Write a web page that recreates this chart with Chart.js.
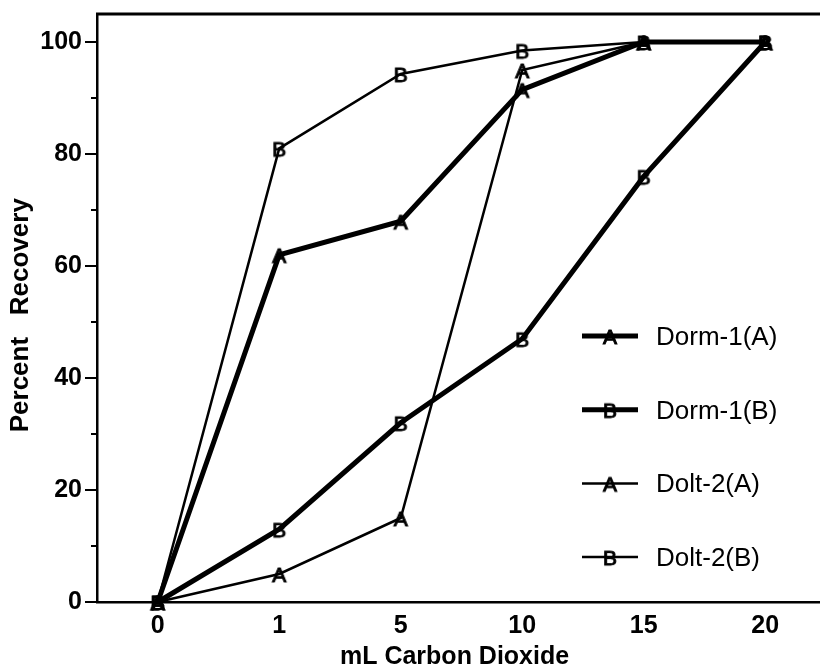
<!DOCTYPE html>
<html>
<head>
<meta charset="utf-8">
<script src="https://cdn.jsdelivr.net/npm/chart.js@4"></script>
<style>
  html, body { margin: 0; padding: 0; background: #fff; overflow: hidden; }
  #wrap { width: 840px; height: 667px; }
</style>
</head>
<body>
<div id="wrap"><canvas id="recovery-chart"></canvas></div>
<script>
// data
const co2Labels = ["0", "1", "5", "10", "15", "20"];
const dorm1A = [0, 62, 68, 91.5, 100, 100];
const dorm1B = [0, 13, 32, 47, 76, 100];
const dolt2A = [0, 5, 15, 95, 100, 100];
const dolt2B = [0, 81, 94.3, 98.5, 100, 100];
const yTicks = [0, 20, 40, 60, 80, 100];
const yMinorTicks = [10, 30, 50, 70, 90];

const FONT = '"Liberation Sans", Arial, sans-serif';

// letter used as point marker
const letterMarker = (ch) => {
  const c = document.createElement("canvas");
  c.width = 22;
  c.height = 22;
  const g = c.getContext("2d");
  g.font = "21px " + FONT;
  g.textAlign = "center";
  g.textBaseline = "alphabetic";
  g.fillStyle = "#000";
  g.strokeStyle = "#000";
  g.lineWidth = 1;
  g.fillText(ch, 11, 11 + 7.5);
  g.strokeText(ch, 11, 11 + 7.5);
  return c;
};
const markA = letterMarker("A");
const markB = letterMarker("B");

const series = [
  { label: "Dorm-1(A)", data: dorm1A, marker: markA, width: 5 },
  { label: "Dorm-1(B)", data: dorm1B, marker: markB, width: 5 },
  { label: "Dolt-2(A)", data: dolt2A, marker: markA, width: 2.5 },
  { label: "Dolt-2(B)", data: dolt2B, marker: markB, width: 2.5 },
];

// top frame line, minor y ticks and the legend inside the plot
const extras = {
  id: "extras",
  afterDraw(chart) {
    const { ctx, chartArea, scales } = chart;
    ctx.save();
    ctx.strokeStyle = "#000";
    ctx.lineWidth = 3;
    ctx.beginPath();
    ctx.moveTo(chartArea.left - 1, chartArea.top);
    ctx.lineTo(chart.width, chartArea.top);
    ctx.stroke();

    ctx.lineWidth = 2;
    yMinorTicks.forEach((v) => {
      const y = Math.round(scales.y.getPixelForValue(v));
      ctx.beginPath();
      ctx.moveTo(chartArea.left - 6, y);
      ctx.lineTo(chartArea.left, y);
      ctx.stroke();
    });

    series.forEach((s, i) => {
      const y = 336 + i * 73.7;
      ctx.lineWidth = s.width;
      ctx.beginPath();
      ctx.moveTo(582, y);
      ctx.lineTo(638, y);
      ctx.stroke();
      ctx.drawImage(s.marker, 610 - 11, y - 11);
      ctx.fillStyle = "#000";
      ctx.font = "26px " + FONT;
      ctx.textAlign = "left";
      ctx.textBaseline = "alphabetic";
      ctx.fillText(s.label, 656, y + 9);
    });
    ctx.restore();
  },
};

new Chart(document.getElementById("recovery-chart"), {
  type: "line",
  data: {
    labels: co2Labels,
    datasets: series.map((s) => ({
      label: s.label,
      data: s.data,
      borderColor: "#000",
      backgroundColor: "#000",
      borderWidth: s.width,
      pointStyle: s.marker,
      pointRadius: 9,
      tension: 0,
      clip: false,
    })),
  },
  options: {
    responsive: true,
    maintainAspectRatio: false,
    animation: false,
    layout: { padding: { top: 13, right: 0, left: 0, bottom: 0 } },
    plugins: {
      legend: { display: false },
      tooltip: { enabled: false },
    },
    scales: {
      x: {
        type: "category",
        offset: true,
        grid: { display: false },
        border: { display: true, color: "#000", width: 2.5 },
        ticks: {
          color: "#000",
          padding: 1,
          font: { family: FONT, size: 25, weight: "bold" },
        },
        title: {
          display: true,
          text: "mL Carbon Dioxide  ",
          color: "#000",
          padding: { top: 0, bottom: -3 },
          font: { family: FONT, size: 25, weight: "bold", lineHeight: 1 },
        },
        afterFit: (scale) => {
          scale.height = 65;
        },
      },
      y: {
        min: 0,
        max: 105,
        grid: {
          drawOnChartArea: false,
          drawTicks: true,
          tickLength: 12,
          color: "#000",
          lineWidth: 2,
        },
        border: { display: true, color: "#000", width: 2.5 },
        ticks: {
          color: "#000",
          padding: 3,
          font: { family: FONT, size: 25, weight: "bold" },
        },
        afterBuildTicks: (scale) => {
          scale.ticks = yTicks.map((v) => ({ value: v }));
        },
        title: {
          display: true,
          text: "Percent   Recovery  ",
          color: "#000",
          padding: { top: 8, bottom: 0 },
          font: { family: FONT, size: 26, weight: "bold", lineHeight: 1 },
        },
        afterFit: (scale) => {
          scale.width = 97;
          scale.paddingTop = 0;
          scale.paddingBottom = 0;
        },
      },
    },
  },
  plugins: [extras],
});
</script>
</body>
</html>
